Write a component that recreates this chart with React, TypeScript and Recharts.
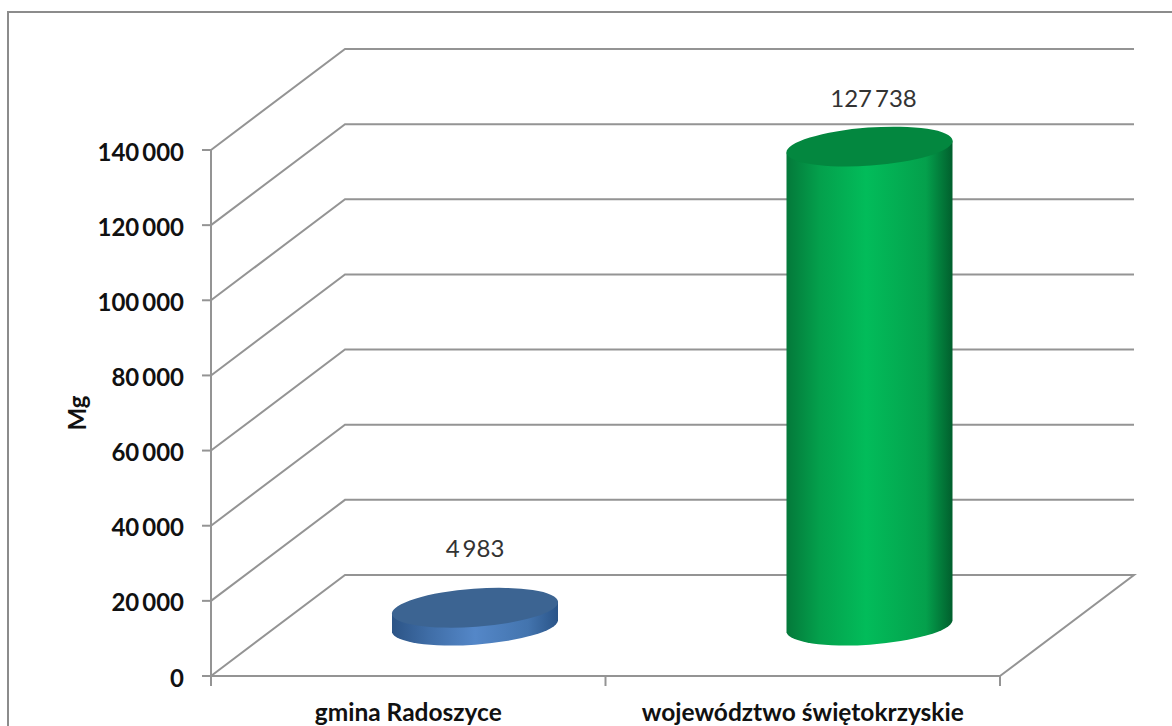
import {
  Bar,
  BarChart,
  CartesianGrid,
  LabelList,
  XAxis,
  YAxis,
} from 'recharts'

const categories = ['gmina Radoszyce', 'województwo świętokrzyskie']
const values = [4983, 127738]
const yTicks = [0, 20000, 40000, 60000, 80000, 100000, 120000, 140000]

const data = categories.map((name, i) => ({ name, value: values[i] }))

const FONT = 'Lato, sans-serif'
const GRID = '#949494'
const DEPTH_X = 134
const DEPTH_Y = 101
const TILT = -4.2

const sideStops = [
  [
    ['0%', '#2c5486'],
    ['22%', '#3f6da6'],
    ['50%', '#5487c8'],
    ['82%', '#4374ae'],
    ['100%', '#2a5488'],
  ],
  [
    ['0%', '#04793a'],
    ['20%', '#04a04c'],
    ['48%', '#02bc5a'],
    ['84%', '#04a04c'],
    ['100%', '#015f2d'],
  ],
]
const topColors = ['#3c6492', '#03873f']

const formatNumber = (v: number) =>
  String(v).replace(/\B(?=(\d{3})+$)/g, '\u2009')

const Cylinder = (props: any) => {
  const { x, y, width, height, index } = props
  const cx = x + width / 2 + DEPTH_X / 2
  const top = y - DEPTH_Y / 2 + 1
  const bottom = top + height
  const rx = width / 2 + 0.3
  const ry = 19
  const sideX = width / 2
  const sideY = 5.85
  const side = `M${cx - sideX},${top + sideY} L${cx - sideX},${bottom + sideY}
    A${rx},${ry} ${TILT} 0 0 ${cx + sideX},${bottom - sideY}
    L${cx + sideX},${top - sideY} Z`
  return (
    <g>
      <defs>
        <linearGradient id={`side-${index}`} x1="0" y1="0" x2="1" y2="0">
          {sideStops[index].map(([offset, color]) => (
            <stop key={offset} offset={offset} stopColor={color} />
          ))}
        </linearGradient>
      </defs>
      <path d={side} fill={`url(#side-${index})`} />
      <ellipse
        cx={cx}
        cy={top}
        rx={rx}
        ry={ry}
        fill={topColors[index]}
        transform={`rotate(${TILT} ${cx} ${top})`}
      />
    </g>
  )
}

const WallLine = (props: any) => {
  const { x1, x2, y1 } = props
  const backX = x1 + DEPTH_X
  const backY = y1 - DEPTH_Y
  let d = `M${x1},${y1} L${backX},${backY} L${x2 + DEPTH_X},${backY}`
  // floor line closes back to the front right corner
  if (y1 > 650) d += ` L${x2},${y1}`
  return <path d={d} fill="none" stroke={GRID} strokeWidth={2} />
}

const ValueLabel = (props: any) => {
  const { x, y, width, value, index } = props
  const cx = x + width / 2 + DEPTH_X / 2 + (index === 1 ? 4 : 0)
  const lift = index === 1 ? 99 : 110
  return (
    <text
      x={cx}
      y={y - lift}
      textAnchor="middle"
      dominantBaseline="central"
      fontFamily={FONT}
      fontSize={24}
      fill="#333"
    >
      {formatNumber(value)}
    </text>
  )
}

const CategoryTick = (props: any) => {
  const { x, y, payload, index, visibleTicksCount } = props
  const half = payload.offset ?? 197
  return (
    <g>
      <line x1={x - half} y1={y - 8} x2={x - half} y2={y + 2} stroke={GRID} strokeWidth={2} />
      {index === visibleTicksCount - 1 && (
        <line x1={x + half} y1={y - 8} x2={x + half} y2={y + 2} stroke={GRID} strokeWidth={2} />
      )}
      <text
        x={x}
        y={y + 27}
        textAnchor="middle"
        dominantBaseline="central"
        fontFamily={FONT}
        fontWeight={700}
        fontSize={24.5}
        fill="#111"
      >
        {payload.value}
      </text>
    </g>
  )
}

export default function App() {
  return (
    <div
      style={{
        position: 'absolute',
        left: 0,
        top: 0,
        width: 1172,
        height: 726,
        background: '#fff',
        overflow: 'hidden',
      }}
    >
      <div
        style={{
          position: 'absolute',
          left: 7,
          top: 11,
          width: 1200,
          height: 800,
          border: '2px solid #8c8c8c',
        }}
      />
      <BarChart
        width={1172}
        height={726}
        data={data}
        barSize={166}
        margin={{ top: 150, right: 172, bottom: 0, left: 0 }}
      >
        <CartesianGrid vertical={false} horizontal={<WallLine />} />
        <XAxis
          dataKey="name"
          height={50}
          interval={0}
          tickLine={false}
          axisLine={{ stroke: GRID, strokeWidth: 2 }}
          tick={<CategoryTick />}
        />
        <YAxis
          width={211}
          domain={[0, 140000]}
          ticks={yTicks}
          interval={0}
          tickSize={9}
          tickMargin={18}
          tickFormatter={formatNumber}
          axisLine={{ stroke: GRID, strokeWidth: 2 }}
          tickLine={{ stroke: GRID, strokeWidth: 2 }}
          tick={{ fontFamily: FONT, fontWeight: 700, fontSize: 24, fill: '#111', dy: 2 }}
          label={{
            value: 'Mg',
            angle: -90,
            position: 'insideLeft',
            offset: 77,
            textAnchor: 'middle',
            style: { fontFamily: FONT, fontWeight: 700, fontSize: 24, fill: '#111', textAnchor: 'middle' },
          }}
        />
        <Bar dataKey="value" shape={<Cylinder />} isAnimationActive={false}>
          <LabelList dataKey="value" content={<ValueLabel />} />
        </Bar>
      </BarChart>
    </div>
  )
}
